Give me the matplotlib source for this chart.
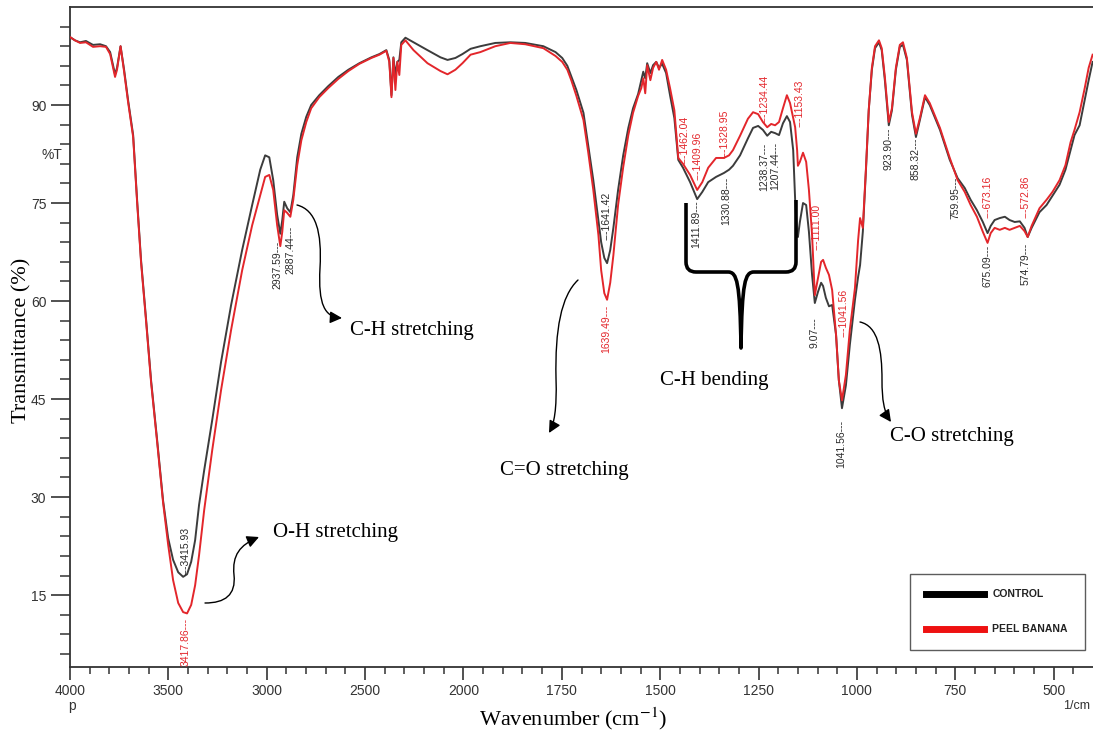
import numpy as np
import matplotlib
matplotlib.use("Agg")
import matplotlib.pyplot as plt
from matplotlib.path import Path
from matplotlib.patches import FancyArrowPatch, PathPatch
from matplotlib.transforms import Affine2D
from matplotlib.lines import Line2D

# ---------------- data ----------------
wavenumber = [4000, 3975, 3949, 3919, 3883, 3847, 3817, 3796, 3781, 3771, 3761, 3743, 3725, 3705,
              3679, 3659, 3639, 3613, 3588, 3557, 3527, 3501, 3476, 3450, 3425, 3405, 3384, 3364,
              3344, 3318, 3277, 3232, 3181, 3125, 3074, 3033, 3008, 2987, 2967, 2947, 2931, 2921,
              2911, 2896, 2880, 2865, 2845, 2824, 2799, 2774, 2733, 2687, 2636, 2585, 2529, 2468,
              2427, 2392, 2377, 2366, 2356, 2346, 2336, 2326, 2316, 2295, 2254, 2183, 2117, 2081,
              2041, 2005, 1982, 1957, 1919, 1881, 1843, 1797, 1766, 1749, 1736, 1726, 1713, 1695,
              1683, 1670, 1657, 1650, 1642, 1635, 1627, 1619, 1607, 1594, 1581, 1569, 1556, 1548,
              1543, 1538, 1533, 1525, 1518, 1510, 1503, 1495, 1485, 1475, 1464, 1454, 1442, 1424,
              1406, 1393, 1378, 1358, 1338, 1325, 1315, 1297, 1277, 1264, 1251, 1239, 1228, 1218,
              1208, 1198, 1188, 1178, 1170, 1162, 1157, 1152, 1150, 1145, 1137, 1129, 1122, 1114,
              1107, 1099, 1091, 1086, 1079, 1071, 1063, 1053, 1046, 1038, 1028, 1018, 1005, 997,
              992, 985, 977, 970, 962, 954, 944, 937, 929, 919, 911, 901, 891, 883, 873, 860, 850,
              840, 827, 815, 789, 764, 744, 726, 711, 695, 680, 668, 660, 650, 637, 624, 612, 599,
              586, 574, 566, 556, 536, 518, 503, 485, 470, 457, 447, 434, 421, 411, 401]

control = [100.4, 99.9, 99.6, 99.8, 99.2, 99.3, 99.0, 98.1, 96.1, 94.7, 95.7, 99.0, 95.4, 90.8,
           85.4, 75.5, 66.3, 57.1, 47.9, 38.7, 29.5, 23.7, 20.4, 18.5, 17.8, 18.2, 20.1, 23.4,
           28.8, 34.1, 41.8, 50.7, 59.4, 67.8, 74.7, 80.1, 82.3, 82.0, 78.5, 73.2, 70.3, 72.4,
           75.2, 74.2, 73.6, 76.2, 82.0, 85.6, 88.2, 90.0, 91.5, 92.9, 94.3, 95.4, 96.4, 97.3,
           97.8, 98.4, 96.9, 91.5, 97.3, 94.6, 96.6, 96.9, 99.6, 100.3, 99.6, 98.4, 97.3, 96.9,
           97.2, 97.8, 98.6, 99.0, 99.5, 99.6, 99.5, 99.0, 98.1, 97.2, 96.0, 94.4, 92.3, 88.8,
           83.9, 78.5, 72.4, 69.0, 66.6, 65.8, 67.8, 71.2, 77.0, 82.3, 86.5, 89.5, 91.7, 93.8,
           95.1, 94.1, 96.4, 94.9, 96.1, 96.6, 95.7, 96.3, 94.9, 91.5, 88.0, 81.6, 80.4, 78.2,
           75.6, 76.7, 78.2, 79.0, 79.6, 80.1, 80.7, 82.3, 84.9, 86.5, 86.8, 86.2, 85.3, 85.9,
           85.7, 85.4, 87.2, 88.3, 87.4, 83.1, 75.5, 69.9, 69.8, 72.1, 75.0, 74.7, 70.6, 64.0,
           59.7, 61.4, 62.8, 62.3, 60.5, 59.2, 59.4, 54.8, 47.9, 43.6, 47.1, 53.3, 60.2, 63.7,
           65.5, 70.6, 80.1, 89.2, 95.4, 98.7, 99.6, 98.4, 93.8, 86.9, 89.2, 95.4, 98.9, 99.2,
           96.9, 88.5, 85.1, 87.7, 91.2, 90.0, 86.2, 81.6, 78.8, 77.3, 75.5, 73.9, 72.1, 70.4,
           71.5, 72.4, 72.7, 72.9, 72.4, 72.1, 72.2, 71.2, 69.8, 71.2, 73.6, 74.7, 76.1, 77.8,
           80.1, 83.1, 85.4, 86.9, 90.8, 93.8, 96.6]

peel_banana = [100.4, 99.9, 99.5, 99.6, 98.9, 99.0, 98.9, 97.8, 95.7, 94.3, 95.4, 99.0, 95.1, 90.5,
               85.1, 75.2, 66.0, 56.8, 47.6, 38.4, 29.2, 22.7, 17.3, 13.8, 12.4, 12.2, 13.5, 16.5,
               21.1, 28.0, 37.2, 46.4, 55.6, 64.7, 71.6, 76.2, 79.0, 79.3, 77.0, 71.6, 68.4, 70.6,
               73.9, 73.5, 72.9, 75.5, 80.8, 84.6, 87.4, 89.5, 91.2, 92.6, 94.0, 95.2, 96.3, 97.2,
               97.7, 98.3, 96.6, 91.2, 97.2, 92.3, 96.6, 94.6, 99.2, 99.9, 98.4, 96.4, 95.2, 94.7,
               95.4, 96.4, 97.7, 98.1, 99.0, 99.5, 99.3, 98.7, 97.5, 96.6, 95.4, 93.8, 91.4, 87.7,
               82.8, 77.0, 70.1, 64.7, 61.2, 60.2, 62.8, 67.0, 74.7, 80.5, 85.4, 88.8, 91.4, 92.6,
               94.1, 91.8, 96.1, 93.8, 95.7, 96.6, 95.4, 96.9, 95.4, 92.6, 89.2, 81.9, 81.0, 79.3,
               77.0, 78.2, 80.4, 81.9, 81.9, 82.3, 83.1, 85.3, 87.9, 88.9, 88.6, 87.4, 86.6, 87.1,
               86.9, 87.4, 89.5, 91.5, 90.3, 88.0, 86.6, 83.1, 80.7, 81.3, 82.7, 81.3, 77.0, 70.1,
               60.9, 63.5, 66.0, 66.3, 65.1, 64.0, 61.7, 54.8, 47.9, 44.8, 48.7, 55.6, 62.0, 69.3,
               72.7, 71.2, 80.4, 89.2, 95.7, 99.0, 99.9, 98.7, 94.3, 87.4, 89.5, 95.7, 99.2, 99.6,
               97.2, 88.9, 85.6, 88.0, 91.5, 90.3, 86.5, 81.9, 78.5, 76.7, 74.7, 72.9, 70.6, 68.9,
               70.4, 71.2, 70.9, 71.2, 70.9, 71.2, 71.5, 70.7, 69.8, 71.5, 74.2, 75.5, 76.7, 78.5,
               80.8, 84.3, 86.2, 88.9, 92.6, 95.7, 97.7]

series_names = ["CONTROL", "PEEL BANANA"]

x_major = [4000, 3500, 3000, 2500, 2000, 1750, 1500, 1250, 1000, 750, 500]
y_major = [15, 30, 45, 60, 75, 90]

# peak labels: (text, wavenumber position, T position, vertical anchor, series)
peak_labels = [
    ("---3415.93", 3412, 18.1, "bottom", 0),
    ("3417.86---", 3412, 11.5, "top", 1),
    ("2937.59---", 2945, 69.3, "top", 0),
    ("2887.44---", 2880, 71.6, "top", 0),
    ("---1641.42", 1637, 69.3, "bottom", 0),
    ("1639.49---", 1637, 59.4, "top", 1),
    ("---1462.04", 1437, 81.0, "bottom", 1),
    ("---1409.96", 1404, 78.5, "bottom", 1),
    ("1411.89---", 1408, 75.5, "top", 0),
    ("---1328.95", 1337, 81.9, "bottom", 1),
    ("1330.88---", 1332, 79.0, "top", 0),
    ("---1234.44", 1234, 87.2, "bottom", 1),
    ("1238.37---", 1236, 84.3, "top", 0),
    ("1207.44---", 1208, 84.3, "top", 0),
    ("---1153.43", 1147, 86.6, "bottom", 1),
    ("---1111.00", 1102, 67.8, "bottom", 1),
    ("9.07---", 1107, 57.5, "top", 0),
    ("---1041.56", 1033, 54.5, "bottom", 1),
    ("1041.56---", 1040, 41.8, "top", 0),
    ("923.90---", 919, 86.5, "top", 0),
    ("858.32---", 850, 85.0, "top", 0),
    ("759.95---", 749, 79.0, "top", 0),
    ("---673.16", 668, 72.7, "bottom", 1),
    ("675.09---", 668, 68.6, "top", 0),
    ("---572.86", 571, 72.7, "bottom", 1),
    ("574.79---", 571, 68.9, "top", 0),
]

band_names = ["C-H stretching", "O-H stretching", "C=O stretching", "C-H bending", "C-O stretching"]

# ---------------- styling ----------------
W, H = 1093, 734
fig = plt.figure(figsize=(W / 100, H / 100), dpi=100)
ax = fig.add_axes([70 / W, 1 - 667 / H, (1093 - 70) / W, (667 - 7) / H])

plt.rcParams['mathtext.fontset'] = 'stix'
SANS = ["Liberation Sans", "DejaVu Sans"]
SERIF = ["Liberation Serif", "DejaVu Serif"]
line_colors = ["#3c3c3c", "#e3262b"]
label_colors = ["#2a2a2a", "#e3262b"]


def fwd(w):
    w = np.asarray(w, dtype=float)
    p = np.where(w >= 2000, (4000 - w) / 500.0, 4 + (2000 - w) / 250.0)
    return -p


def inv(v):
    p = -np.asarray(v, dtype=float)
    return np.where(p <= 4, 4000 - 500.0 * p, 2000 - 250.0 * (p - 4))


ax.set_xscale('function', functions=(fwd, inv))

ax.plot(wavenumber, control, color=line_colors[0], lw=1.4, label=series_names[0], zorder=3)
ax.plot(wavenumber, peel_banana, color=line_colors[1], lw=1.4, label=series_names[1], zorder=4)

ax.set_xlim(4000, 400)
ax.set_ylim(4, 105)

minor_x = [v for v in range(3900, 2000, -100) if v not in x_major] + \
          [v for v in range(1950, 400, -50) if v not in x_major]
ax.set_xticks(x_major)
ax.set_xticks(minor_x, minor=True)
ax.set_xticklabels([str(v) for v in x_major])
ax.set_yticks(y_major)
ax.set_yticks([v for v in range(6, 105, 3) if v not in y_major], minor=True)
ax.set_yticklabels([str(v) for v in y_major])

ax.tick_params(axis='both', which='major', direction='out', length=9, width=1.2,
               colors='#333333', labelsize=10, labelcolor='#333333')
ax.tick_params(axis='both', which='minor', direction='out', length=5, width=1.1, colors='#333333')
ax.tick_params(axis='y', which='major', length=14, pad=3)
ax.tick_params(axis='y', which='minor', length=7)
for lab in ax.get_xticklabels() + ax.get_yticklabels():
    lab.set_fontfamily(SANS)

for s in ['left', 'bottom', 'top']:
    ax.spines[s].set_color('#333333')
    ax.spines[s].set_linewidth(1.3)
ax.spines['right'].set_visible(False)

# pixel transform for decorations
pix = Affine2D().scale(1 / W, -1 / H).translate(0, 1) + fig.transFigure

fig.text(22, 340, "Transmittance (%)", transform=pix, rotation=90, ha='center', va='center',
         fontsize=16, family=SERIF)
fig.text(573, 719, r"Wavenumber (cm$^{-1}$)", transform=pix, ha='center', va='center',
         fontsize=16, family=SERIF)
fig.text(52, 155, "%T", transform=pix, ha='center', va='center', fontsize=10, family=SANS,
         color='#333333')
fig.text(72, 706, "p", transform=pix, ha='center', va='center', fontsize=10, family=SANS,
         color='#333333')
fig.text(1077, 706, "1/cm", transform=pix, ha='center', va='center', fontsize=9, family=SANS,
         color='#333333')

# peak labels
for txt, xw, yt, va, si in peak_labels:
    ax.text(xw, yt, txt, rotation=90, ha='center', va=va, fontsize=7.5, family=SANS,
            color=label_colors[si], zorder=5)

# band annotations
band_pos = [(350, 330), (273, 532), (500, 470), (660, 381), (890, 437)]
for name, (px, py) in zip(band_names, band_pos):
    fig.text(px, py, name, transform=pix, ha='left', va='center', fontsize=15, family=SERIF)

M, L, C3, C4 = Path.MOVETO, Path.LINETO, Path.CURVE3, Path.CURVE4
arrow_paths = [
    [(297, 205), (316, 210), (322, 232), (320, 268), (318, 305), (325, 317), (342, 318)],
    [(205, 603), (225, 603), (236, 595), (234, 575), (232, 555), (240, 545), (259, 537)],
    [(578, 280), (561, 296), (555, 330), (556, 378), (557, 410), (554, 424), (549, 433)],
    [(860, 322), (878, 326), (882, 350), (882, 380), (882, 400), (884, 412), (891, 422)],
]
for verts in arrow_paths:
    path = Path(verts, [M, C4, C4, C4, C4, C4, C4])
    arr = FancyArrowPatch(path=path, arrowstyle='-|>', mutation_scale=18, lw=1.0,
                          color='black', transform=pix)
    fig.patches.append(arr)

brace = Path([(686, 203), (686, 262), (686, 272), (696, 272), (728, 272),
              (737, 272), (740, 282), (741, 348),
              (742, 282), (745, 272), (754, 272), (786, 272),
              (796, 272), (796, 262), (796, 200)],
             [M, L, C3, C3, L, C4, C4, C4, C4, C4, C4, L, C3, C3, L])
fig.patches.append(PathPatch(brace, fill=False, lw=2.6, color='black', transform=pix,
                             capstyle='butt', joinstyle='round'))

# legend
handles = [Line2D([], [], color=c, lw=5) for c in ['black', '#ee1111']]
leg = ax.legend(handles, series_names, loc='lower left',
                bbox_to_anchor=(0.821, 0.026, 0.171, 0.113), mode='expand',
                prop={'family': SANS, 'weight': 'bold', 'size': 7.5},
                frameon=True, fancybox=False, edgecolor='#333333', handlelength=5.6,
                handletextpad=0.8, labelspacing=2.4, borderpad=1.5, borderaxespad=0)
leg.get_frame().set_linewidth(1.0)
for t in leg.get_texts():
    t.set_color('#222222')

fig.savefig("out.png", dpi=100)
